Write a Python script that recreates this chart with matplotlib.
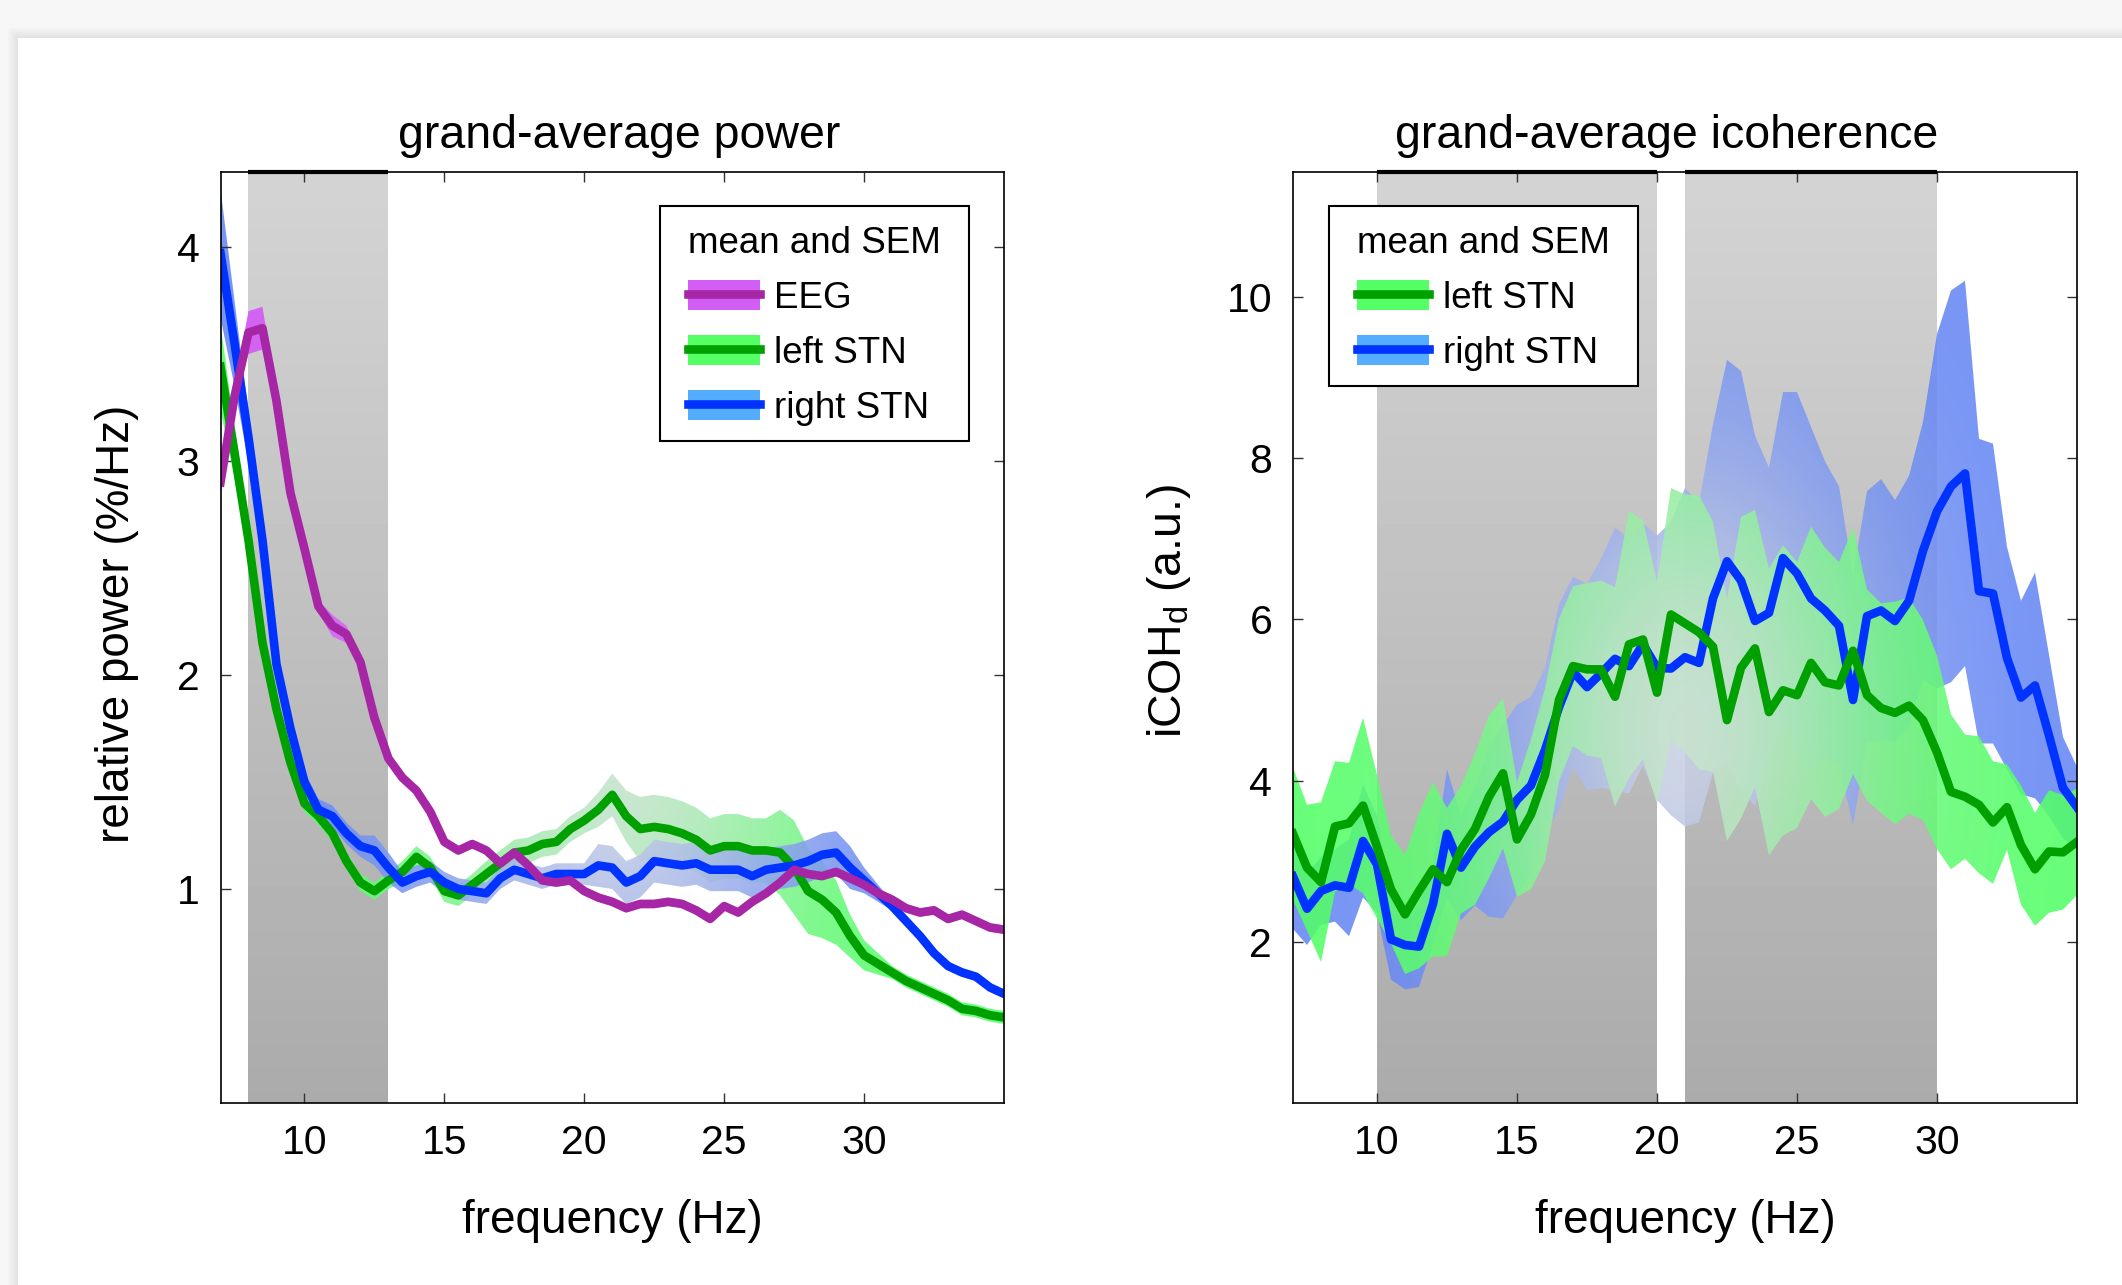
import numpy as np
import matplotlib
matplotlib.use("Agg")
import matplotlib.pyplot as plt
from matplotlib.patches import Patch, Rectangle
from matplotlib.lines import Line2D
from matplotlib.path import Path
from matplotlib.colors import to_rgb
from matplotlib.legend_handler import HandlerLine2D

plt.rcParams['font.family'] = ['Liberation Sans', 'DejaVu Sans']
plt.rcParams['mathtext.fontset'] = 'custom'
plt.rcParams['mathtext.rm'] = 'Liberation Sans'
plt.rcParams['mathtext.it'] = 'Liberation Sans:italic'

# frequency axis, 0.5 Hz resolution
freqs = np.arange(7, 35.01, 0.5)

# --- grand-average power (%/Hz) ---
eeg_pow = [2.90, 3.30, 3.60, 3.62, 3.28, 2.85, 2.59, 2.32, 2.23, 2.19,
           2.06, 1.80, 1.61, 1.52, 1.46, 1.36, 1.22, 1.18, 1.21, 1.18,
           1.12, 1.17, 1.11, 1.04, 1.03, 1.04, 0.99, 0.96, 0.94, 0.91,
           0.93, 0.93, 0.94, 0.93, 0.90, 0.86, 0.92, 0.89, 0.94, 0.98,
           1.03, 1.09, 1.07, 1.06, 1.08, 1.05, 1.02, 0.98, 0.95, 0.91,
           0.89, 0.90, 0.86, 0.88, 0.85, 0.82, 0.81]
eeg_pow_sem = [0.06, 0.05, 0.10, 0.10, 0.04, 0.03, 0.03, 0.03, 0.05, 0.04,
               0.03] + [0.02] * 46
left_pow = [3.44, 3.04, 2.63, 2.15, 1.84, 1.59, 1.40, 1.34, 1.26, 1.13,
            1.03, 0.99, 1.04, 1.08, 1.15, 1.10, 0.99, 0.97, 1.02, 1.07,
            1.12, 1.17, 1.18, 1.21, 1.22, 1.28, 1.32, 1.37, 1.44, 1.34,
            1.28, 1.29, 1.28, 1.26, 1.23, 1.18, 1.20, 1.20, 1.18, 1.18,
            1.17, 1.10, 0.99, 0.95, 0.89, 0.78, 0.69, 0.65, 0.61, 0.57,
            0.54, 0.51, 0.48, 0.44, 0.43, 0.41, 0.40]
left_pow_sem = [0.20, 0.12, 0.08, 0.05, 0.04, 0.04, 0.04, 0.04, 0.04, 0.04,
                0.04, 0.04, 0.04, 0.05, 0.05, 0.05, 0.05, 0.05, 0.05, 0.06,
                0.06, 0.06, 0.06, 0.06, 0.06, 0.06, 0.06, 0.08, 0.10, 0.12,
                0.15, 0.15, 0.15, 0.15, 0.15, 0.15, 0.15, 0.15, 0.15, 0.15,
                0.20, 0.22, 0.20, 0.18, 0.15, 0.10, 0.07, 0.05, 0.03, 0.03,
                0.03, 0.03, 0.03, 0.03, 0.03, 0.03, 0.03]
right_pow = [3.97, 3.55, 3.11, 2.63, 2.05, 1.75, 1.50, 1.37, 1.34, 1.26,
             1.20, 1.18, 1.10, 1.03, 1.06, 1.08, 1.03, 1.00, 0.99, 0.98,
             1.05, 1.09, 1.07, 1.05, 1.07, 1.07, 1.07, 1.11, 1.10, 1.03,
             1.06, 1.13, 1.12, 1.11, 1.12, 1.09, 1.09, 1.09, 1.06, 1.09,
             1.10, 1.11, 1.13, 1.16, 1.17, 1.10, 1.04, 0.98, 0.92, 0.85,
             0.78, 0.70, 0.64, 0.61, 0.59, 0.54, 0.51]
right_pow_sem = [0.30, 0.20, 0.12, 0.08, 0.06, 0.05, 0.05, 0.05, 0.05, 0.05,
                 0.05, 0.07, 0.07, 0.05, 0.05, 0.05, 0.05, 0.05, 0.05, 0.05,
                 0.05, 0.05, 0.05, 0.05, 0.05, 0.05, 0.05, 0.10, 0.10, 0.10,
                 0.10, 0.10, 0.10, 0.10, 0.10, 0.10, 0.10, 0.10, 0.10, 0.10,
                 0.10, 0.10, 0.10, 0.10, 0.10, 0.10, 0.06, 0.04, 0.02, 0.02,
                 0.02, 0.02, 0.02, 0.02, 0.02, 0.02, 0.02]

# --- grand-average icoherence (a.u.) ---
left_icoh = [3.34, 2.92, 2.74, 3.43, 3.47, 3.69, 3.18, 2.65, 2.34, 2.63,
             2.90, 2.74, 3.14, 3.40, 3.80, 4.09, 3.27, 3.58, 4.07, 5.00,
             5.42, 5.38, 5.38, 5.04, 5.69, 5.75, 5.09, 6.06, 5.95, 5.84,
             5.66, 4.75, 5.40, 5.64, 4.85, 5.12, 5.06, 5.46, 5.22, 5.18,
             5.61, 5.06, 4.90, 4.84, 4.93, 4.75, 4.35, 3.86, 3.80, 3.70,
             3.48, 3.67, 3.20, 2.90, 3.12, 3.11, 3.24]
left_icoh_sem = [0.82, 0.78, 0.99, 0.81, 0.75, 1.09, 0.89, 0.67, 0.74, 0.96,
                 1.08, 0.92, 0.79, 0.94, 1.01, 0.93, 0.71, 0.93, 1.07, 1.01,
                 0.99, 1.07, 1.10, 1.36, 1.66, 1.48, 1.38, 1.57, 1.60, 1.70,
                 1.55, 1.50, 1.87, 1.72, 1.78, 1.80, 1.65, 1.69, 1.67, 1.53,
                 1.53, 1.31, 1.30, 1.38, 1.34, 1.24, 1.20, 0.96, 0.77, 0.85,
                 0.76, 0.53, 0.74, 0.70, 0.76, 0.71, 0.66]
right_icoh = [2.81, 2.41, 2.63, 2.70, 2.67, 3.25, 2.96, 2.03, 1.96, 1.94,
              2.47, 3.34, 2.92, 3.18, 3.36, 3.49, 3.76, 3.94, 4.38, 4.91,
              5.35, 5.16, 5.33, 5.51, 5.42, 5.69, 5.40, 5.39, 5.53, 5.46,
              6.26, 6.72, 6.48, 5.98, 6.08, 6.76, 6.57, 6.26, 6.11, 5.92,
              5.00, 6.04, 6.11, 5.98, 6.23, 6.85, 7.34, 7.65, 7.81, 6.35,
              6.32, 5.52, 5.03, 5.18, 4.56, 3.91, 3.67]
right_icoh_sem = [0.65, 0.45, 0.42, 0.45, 0.60, 0.70, 0.60, 0.50, 0.55, 0.50,
                  0.50, 0.80, 0.65, 0.73, 1.05, 1.20, 1.18, 1.10, 1.02, 1.28,
                  1.18, 1.28, 1.42, 1.63, 1.58, 1.50, 1.64, 1.82, 2.10, 1.98,
                  2.16, 2.50, 2.60, 2.30, 1.80, 2.06, 2.25, 2.13, 1.85, 1.73,
                  1.55, 1.55, 1.63, 1.50, 1.55, 1.60, 2.20, 2.43, 2.39, 1.89,
                  1.86, 1.38, 1.20, 1.40, 1.00, 0.63, 0.50]

# significant clusters (Hz)
pow_clusters = [(8, 13)]
icoh_clusters = [(10, 20), (21, 30)]

purple, purple_fill = "#a626a6", "#d35ef5"
green, green_fill, green_leg = "#00a000", "#52ff66", "#55ff66"
blue, blue_fill, blue_leg = "#0033ff", "#6486f5", "#55adff"
LW = 6.2

W, H = 2122, 1285
fig = plt.figure(figsize=(W / 100, H / 100), dpi=100)
fig.patch.set_facecolor("#f7f7f7")

# white page with a soft shadow
for k in range(8):
    fig.patches.append(Rectangle(((18 - k * 1.5) / W, 0), 1, (H - 38 + k * 1.5) / H,
                                 transform=fig.transFigure, facecolor="black",
                                 alpha=0.012, edgecolor="none", zorder=-20))
fig.patches.append(Rectangle((18 / W, 0), 1, (H - 38) / H, transform=fig.transFigure,
                             facecolor="white", edgecolor="none", zorder=-10))


class ShortLine(HandlerLine2D):
    def create_artists(self, legend, orig_handle, xdescent, ydescent, width, height,
                       fontsize, trans):
        arts = super().create_artists(legend, orig_handle, xdescent, ydescent, width,
                                      height, fontsize, trans)
        for a in arts:
            x = a.get_xdata()
            if len(x) == 2:
                d = 0.15 * (x[1] - x[0])
                a.set_xdata([x[0] + d, x[1] - d])
        return arts


def shade(ax, clusters, ytop):
    grad = np.linspace(0.83, 0.67, 256).reshape(-1, 1)
    for x0, x1 in clusters:
        ax.imshow(grad, extent=[x0, x1, 0, ytop], aspect="auto", cmap="gray",
                  vmin=0, vmax=1, origin="upper", zorder=0, interpolation="bilinear")
        ax.plot([x0, x1], [ytop, ytop], color="black", lw=3.0, solid_capstyle="butt",
                zorder=5, clip_on=False)


def sem_band(ax, x, mean, sem, color, ylim, alpha=0.88, zorder=1):
    # SEM band with the washed-out centre the original renderer produced
    m, s = np.asarray(mean), np.asarray(sem)
    verts = np.vstack([np.column_stack([x, m + s]), np.column_stack([x[::-1], (m - s)[::-1]])])
    path = Path(verts)
    gx, gy = np.meshgrid(np.linspace(0, 1, 300), np.linspace(0, 1, 300))
    w = 0.85 * np.exp(-(((gx - 0.5) / 0.25) ** 2 + ((gy - 0.4) / 0.35) ** 2))
    base = np.array(to_rgb(color))
    pale = np.array([0.86, 0.87, 0.88])
    img = base[None, None, :] * (1 - w[..., None]) + pale[None, None, :] * w[..., None]
    im = ax.imshow(img, extent=[7, 35, ylim[0], ylim[1]], origin="lower", aspect="auto",
                   alpha=alpha, zorder=zorder, interpolation="bilinear")
    im.set_clip_path(path, ax.transData)


def style(ax, ylim, yticks):
    ax.set_xlim(7, 35)
    ax.set_ylim(*ylim)
    ax.set_xticks([10, 15, 20, 25, 30])
    ax.set_yticks(yticks)
    ax.tick_params(direction="in", length=7.5, width=1, top=True, right=True,
                   labelsize=29.5, color="#333333", pad=15)
    for s in ax.spines.values():
        s.set_linewidth(1.2)
        s.set_zorder(6)
    ax.set_xlabel("frequency (Hz)", fontsize=33, labelpad=27)


h_eeg = (Patch(facecolor=purple_fill, edgecolor="none"), Line2D([], [], color=purple, lw=LW))
h_left = (Patch(facecolor=green_leg, edgecolor="none"), Line2D([], [], color=green, lw=LW))
h_right = (Patch(facecolor=blue_leg, edgecolor="none"), Line2D([], [], color=blue, lw=LW))

leg_kw = dict(fontsize=26.5, title="mean and SEM", title_fontsize=26.5, frameon=False,
              alignment="left", borderaxespad=0, borderpad=0, loc="upper left",
              handlelength=1.95, handleheight=0.88, handletextpad=0.37,
              labelspacing=0.52, handler_map={Line2D: ShortLine()})

# ---------- left: power ----------
ax1 = fig.add_axes([220.5 / W, 182 / H, 783.5 / W, 931 / H])
ylim1 = (0, 4.35)
shade(ax1, pow_clusters, ylim1[1])
sem_band(ax1, freqs, eeg_pow, eeg_pow_sem, purple_fill, ylim1, alpha=0.95)
sem_band(ax1, freqs, left_pow, left_pow_sem, green_fill, ylim1)
sem_band(ax1, freqs, right_pow, right_pow_sem, blue_fill, ylim1)
ax1.plot(freqs, left_pow, color=green, lw=LW, zorder=2)
ax1.plot(freqs, right_pow, color=blue, lw=LW, zorder=2)
ax1.plot(freqs, eeg_pow, color=purple, lw=LW, zorder=3)
style(ax1, ylim1, [1, 2, 3, 4])
ax1.set_title("grand-average power", fontsize=33.5, pad=17, x=0.509)
ax1.set_ylabel("relative power (%/Hz)", fontsize=33, labelpad=27)
ax1.yaxis.label.set_y(0.515)
leg1 = ax1.legend([h_eeg, h_left, h_right], ["EEG", "left STN", "right STN"],
                  bbox_to_anchor=(0.597, 0.942), **leg_kw)

# ---------- right: icoherence ----------
ax2 = fig.add_axes([1293 / W, 182 / H, 784 / W, 931 / H])
ylim2 = (0, 11.55)
shade(ax2, icoh_clusters, ylim2[1])
sem_band(ax2, freqs, right_icoh, right_icoh_sem, blue_fill, ylim2)
sem_band(ax2, freqs, left_icoh, left_icoh_sem, green_fill, ylim2)
ax2.plot(freqs, right_icoh, color=blue, lw=LW, zorder=2)
ax2.plot(freqs, left_icoh, color=green, lw=LW, zorder=3)
style(ax2, ylim2, [2, 4, 6, 8, 10])
ax2.set_title("grand-average icoherence", fontsize=33.5, pad=17, x=0.477)
ax2.set_ylabel("iCOH$_\\mathrm{d}$ (a.u.)", fontsize=33.5, labelpad=24)
ax2.yaxis.label.set_y(0.528)
leg2 = ax2.legend([h_left, h_right], ["left STN", "right STN"],
                  bbox_to_anchor=(0.082, 0.942), **leg_kw)

# legend boxes: wider side margins than top/bottom, like the original
fig.canvas.draw()
renderer = fig.canvas.get_renderer()
for ax, leg in [(ax1, leg1), (ax2, leg2)]:
    leg.set_zorder(10)
    bb = leg.get_window_extent(renderer).transformed(ax.transAxes.inverted())
    px, pt, pb = 28 / 783.5, 20 / 931, 15 / 931
    ax.add_patch(Rectangle((bb.x0 - px, bb.y0 - pb), bb.width + 2 * px, bb.height + pt + pb,
                           transform=ax.transAxes, facecolor="white", edgecolor="black",
                           lw=1.5, zorder=9, clip_on=False))

fig.savefig("out.png", dpi=100, facecolor=fig.get_facecolor())
